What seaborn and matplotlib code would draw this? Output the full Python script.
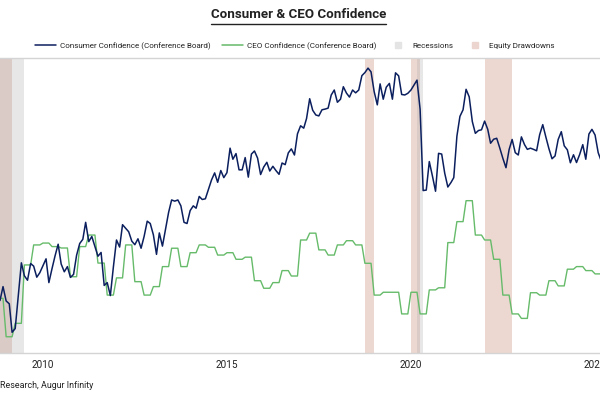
import matplotlib
matplotlib.use("Agg")
import matplotlib.pyplot as plt
from matplotlib.lines import Line2D
import numpy as np
import pandas as pd
import seaborn as sns

# Conference Board consumer confidence, monthly (month-end), Oct 2008 - Feb 2025
CONSUMER_START = "2008-10-31"
consumer_conf = [
    38.8, 44.7, 38.6,
    37.4, 25.3, 26.9, 40.8, 54.8, 49.3, 47.4, 54.5, 53.4, 48.7, 50.6, 53.6,
    56.5, 46.4, 52.3, 57.7, 62.7, 54.3, 51.0, 53.2, 48.6, 49.9, 58.0, 63.0,
    64.8, 72.0, 63.8, 66.0, 61.7, 57.6, 59.2, 45.2, 46.4, 40.9, 53.0, 64.5,
    61.5, 71.0, 69.5, 68.0, 64.0, 62.5, 65.0, 61.0, 66.0, 72.5, 71.5, 66.7,
    58.4, 67.5, 61.9, 69.0, 76.2, 81.5, 81.0, 81.5, 79.0, 72.0, 71.5, 77.0,
    79.0, 78.0, 83.0, 81.7, 82.0, 86.0, 90.0, 93.0, 89.0, 94.0, 91.0, 93.1,
    103.5, 98.8, 101.2, 94.3, 94.3, 99.5, 91.2, 101.0, 102.3, 99.3, 92.3, 95.5,
    97.5, 93.8, 95.8, 94.0, 92.4, 97.2, 96.5, 101.5, 103.2, 100.6, 109.6, 113.0,
    112.0, 116.1, 124.5, 119.6, 117.6, 117.2, 119.8, 120.1, 120.5, 126.1, 128.2, 123.0,
    124.3, 129.6, 126.9, 125.2, 128.2, 127.0, 128.2, 134.3, 135.6, 137.5, 135.9, 127.5,
    121.9, 130.8, 124.3, 129.4, 131.0, 124.3, 135.5, 134.2, 126.3, 126.1, 126.8, 128.2,
    130.4, 132.4, 120.0, 85.5, 85.7, 97.8, 91.7, 85.2, 101.3, 101.0, 92.9, 87.0,
    88.9, 91.0, 108.6, 117.0, 119.8, 128.5, 125.3, 114.8, 109.8, 111.0, 111.3, 115.0,
    111.5, 105.6, 107.3, 107.7, 103.5, 99.2, 95.2, 102.9, 107.2, 101.6, 100.6, 108.3,
    105.0, 103.0, 103.5, 103.0, 102.4, 109.2, 113.5, 108.2, 103.3, 99.0, 100.2, 107.2,
    110.5, 104.5, 102.8, 97.3, 100.7, 97.4, 100.8, 105.0, 98.8, 109.5, 111.5, 109.1,
    101.6, 98.3,
]

# CEO confidence, quarterly readings, each held for three months (Sep-Nov 2008 onward)
CEO_START = "2008-09-30"
ceo_conf_quarterly = [
    39.7, 23.4, 29.1, 53.9, 62.4, 63.2, 61.7, 61.1, 48.9, 61.7,
    66.6, 54.7, 41.1, 48.4, 62.4, 46.8, 41.1, 44.7, 53.2, 61.0,
    53.2, 59.1, 62.4, 61.4, 58.1, 59.1, 56.3, 57.2, 47.2, 44.0,
    46.4, 51.5, 49.2, 64.5, 67.4, 60.3, 58.1, 62.4, 64.2, 62.4,
    54.6, 41.1, 42.3, 42.3, 33.1, 42.3, 33.1, 43.3, 44.2, 63.4,
    72.3, 81.2, 66.6, 64.5, 56.3, 41.1, 33.1, 31.2, 42.1, 41.1,
    47.2, 45.0, 52.1, 53.2, 51.5, 50.1,
]

recessions = [("2007-12-31", "2009-06-30"), ("2020-02-29", "2020-04-30")]
drawdowns = [
    ("2007-10-31", "2009-02-28"),
    ("2018-09-30", "2018-12-31"),
    ("2020-01-01", "2020-03-31"),
    ("2021-12-31", "2022-10-01"),
]
year_ticks = [2010, 2015, 2020, 2025]

NAVY = "#0b1f5e"
GREEN = "#66bb6a"
REC_COLOR = "#b0b0b0"
DD_COLOR = "#c0705a"
AXIS_GREY = "#d4d4d4"
INK = "#222222"

sns.set_style("white")
plt.rcParams["font.family"] = ["Roboto", "DejaVu Sans"]

consumer = pd.DataFrame({
    "date": pd.date_range(CONSUMER_START, periods=len(consumer_conf), freq=pd.offsets.MonthEnd()),
    "value": consumer_conf,
})
ceo_monthly = np.repeat(ceo_conf_quarterly, 3)
ceo = pd.DataFrame({
    "date": pd.date_range(CEO_START, periods=len(ceo_monthly), freq=pd.offsets.MonthEnd()),
    "value": ceo_monthly,
})

fig = plt.figure(figsize=(6, 4), dpi=100)
ax = fig.add_axes([0.0, 0.1175, 1.0, 0.7375])

for start, end in drawdowns:
    ax.axvspan(pd.Timestamp(start), pd.Timestamp(end), color=DD_COLOR, alpha=0.28, lw=0, zorder=0)
for start, end in recessions:
    ax.axvspan(pd.Timestamp(start), pd.Timestamp(end), color=REC_COLOR, alpha=0.3, lw=0, zorder=0)

sns.lineplot(data=ceo, x="date", y="value", color=GREEN, linewidth=1.0, ax=ax)
sns.lineplot(data=consumer, x="date", y="value", color=NAVY, linewidth=1.1, ax=ax)

ax.set_xlim(pd.Timestamp("2008-10-31"), pd.Timestamp("2025-02-18"))
ax.set_ylim(16.5, 141.8)
ax.set_xticks([pd.Timestamp(f"{y}-01-01") for y in year_ticks])
ax.set_xticklabels([str(y) for y in year_ticks])
ax.tick_params(axis="x", length=0, pad=5, labelsize=7.2, labelcolor=INK)
ax.set_yticks([])
ax.set_xlabel("")
ax.set_ylabel("")
for side in ("left", "right"):
    ax.spines[side].set_visible(False)
for side in ("top", "bottom"):
    ax.spines[side].set_color(AXIS_GREY)
    ax.spines[side].set_linewidth(1.0)

title = fig.text(0.497, 0.964, "Consumer & CEO Confidence", ha="center", va="center",
                 fontsize=9.6, fontweight="bold", color=INK)

handles = [
    Line2D([], [], color=NAVY, lw=1.1),
    Line2D([], [], color=GREEN, lw=1.1),
    Line2D([], [], color="#e4e4e4", marker="s", linestyle="none", markersize=4.5),
    Line2D([], [], color="#ecd5cf", marker="s", linestyle="none", markersize=4.5),
]
labels = [
    "Consumer Confidence (Conference Board)",
    "CEO Confidence (Conference Board)",
    "Recessions",
    "Equity Drawdowns",
]
fig.legend(handles, labels, loc="center", bbox_to_anchor=(0.492, 1 - 46 / 400), ncol=4,
           frameon=False, fontsize=5.8, handlelength=2.5, handletextpad=0.5,
           columnspacing=1.5, labelcolor=INK)

fig.text(0.0, 1 - 385 / 400, "Research, Augur Infinity", ha="left", va="center",
         fontsize=6.4, color=INK)

# underline the title
fig.canvas.draw()
bb = title.get_window_extent(fig.canvas.get_renderer()).transformed(fig.transFigure.inverted())
fig.add_artist(Line2D([bb.x0, bb.x1], [1 - 23.7 / 400] * 2, transform=fig.transFigure,
                      color=INK, lw=1.0))

fig.savefig("out.png", dpi=100, facecolor="white")
